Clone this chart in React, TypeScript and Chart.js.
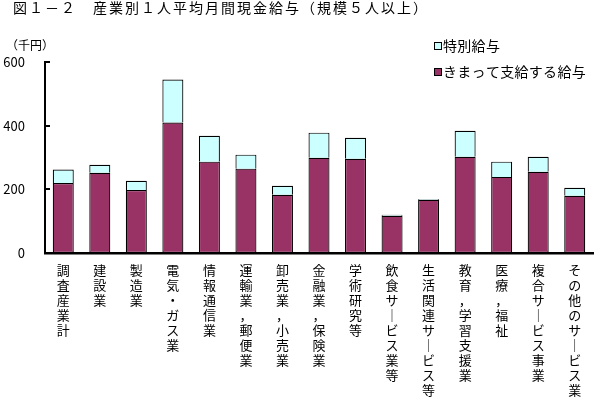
import React, { useEffect, useRef } from "react";
import { Chart, registerables } from "chart.js";

Chart.register(...registerables);

const categories = [
  "調査産業計",
  "建設業",
  "製造業",
  "電気・ガス業",
  "情報通信業",
  "運輸業，郵便業",
  "卸売業，小売業",
  "金融業，保険業",
  "学術研究等",
  "飲食サービス業等",
  "生活関連サービス等",
  "教育，学習支援業",
  "医療，福祉",
  "複合サービス事業",
  "その他のサービス業",
];
const regularPay = [220, 252, 198, 410, 287, 265, 183, 299, 296, 117, 167, 302, 239, 255, 180];
const specialPay = [42, 25, 29, 135, 81, 44, 28, 79, 66, 3, 3, 82, 48, 47, 25];
const yTicks = [0, 200, 400, 600];
const seriesNames = ["きまって支給する給与", "特別給与"];
const seriesColors = ["#993366", "#CCFFFF"];
const titleText = "図１－２　産業別１人平均月間現金給与（規模５人以上）";
const unitText = "（千円）";

const FONT = "'Noto Sans CJK JP', 'Noto Sans', sans-serif";

// vertical stacking of label characters
const toVertical = (s: string) => Array.from(s).map((c) => (c === "ー" ? "｜" : c));

const decorPlugin = {
  id: "decor",
  afterDraw(chart: any) {
    const ctx = chart.ctx as CanvasRenderingContext2D;
    const area = chart.chartArea;
    const yScale = chart.scales.y;
    ctx.save();
    // inner tick marks on y axis
    ctx.strokeStyle = "#000";
    ctx.lineWidth = 2;
    yTicks.forEach((v) => {
      if (v === 0) return;
      const py = Math.round(yScale.getPixelForValue(v));
      ctx.beginPath();
      ctx.moveTo(area.left, py);
      ctx.lineTo(area.left + 5, py);
      ctx.stroke();
    });
    // title
    ctx.fillStyle = "#000";
    ctx.textBaseline = "middle";
    ctx.textAlign = "left";
    ctx.font = `14px ${FONT}`;
    (ctx as any).letterSpacing = "2px";
    ctx.fillText(titleText, 13, 8);
    // unit
    ctx.font = `12px ${FONT}`;
    (ctx as any).letterSpacing = "0px";
    ctx.fillText(unitText, 6, 45);
    // legend (reverse order)
    const ds = chart.data.datasets;
    const items = [ds[1], ds[0]];
    ctx.font = `14px ${FONT}`;
    (ctx as any).letterSpacing = "0.3px";
    items.forEach((d: any, i: number) => {
      const cy = 46 + i * 26;
      ctx.fillStyle = d.backgroundColor;
      ctx.fillRect(434, cy - 3.5, 7, 7);
      ctx.strokeStyle = "#000";
      ctx.lineWidth = 1;
      ctx.strokeRect(434.5, cy - 3.5, 7, 7);
      ctx.fillStyle = "#000";
      ctx.fillText(d.label, 443, cy);
    });
    ctx.restore();
  },
};

export default function App() {
  const ref = useRef<HTMLCanvasElement | null>(null);
  useEffect(() => {
    if (!ref.current) return;
    const chart = new Chart(ref.current, {
      type: "bar",
      data: {
        labels: categories.map(toVertical),
        datasets: [
          {
            label: seriesNames[0],
            data: regularPay,
            backgroundColor: seriesColors[0],
            borderColor: "#000",
            borderWidth: 1.2,
            borderSkipped: false,
            inflateAmount: 0,
          },
          {
            label: seriesNames[1],
            data: specialPay,
            backgroundColor: seriesColors[1],
            borderColor: "#000",
            borderWidth: { top: 1.2, left: 1.2, right: 1.2, bottom: 0 },
            borderSkipped: false,
            inflateAmount: 0,
          },
        ],
      },
      options: {
        responsive: false,
        animation: false,
        layout: { padding: { left: 0, right: 7, top: 62, bottom: 0 } },
        datasets: { bar: { barPercentage: 0.575, categoryPercentage: 1 } },
        plugins: { legend: { display: false }, title: { display: false }, tooltip: { enabled: false } },
        scales: {
          x: {
            stacked: true,
            grid: { display: false, drawTicks: false },
            border: { display: true, color: "#000", width: 2.5 },
            ticks: {
              color: "#000",
              autoSkip: false,
              maxRotation: 0,
              minRotation: 0,
              padding: 10,
              font: { family: FONT, size: 13, lineHeight: "15px" },
            },
            afterFit: (s: any) => {
              s.height = 147;
            },
          },
          y: {
            stacked: true,
            min: 0,
            max: 600,
            grid: { display: false, drawTicks: false },
            border: { display: true, color: "#000", width: 2 },
            ticks: {
              stepSize: 200,
              color: "#000",
              padding: 20,
              font: { family: FONT, size: 13 },
            },
            afterFit: (s: any) => {
              s.width = 45;
            },
          },
        },
      },
      plugins: [decorPlugin],
    });
    return () => chart.destroy();
  }, []);
  return (
    <div style={{ position: "fixed", left: 0, top: 0, width: 600, height: 400, background: "#fff" }}>
      <canvas ref={ref} width={600} height={400} />
    </div>
  );
}
